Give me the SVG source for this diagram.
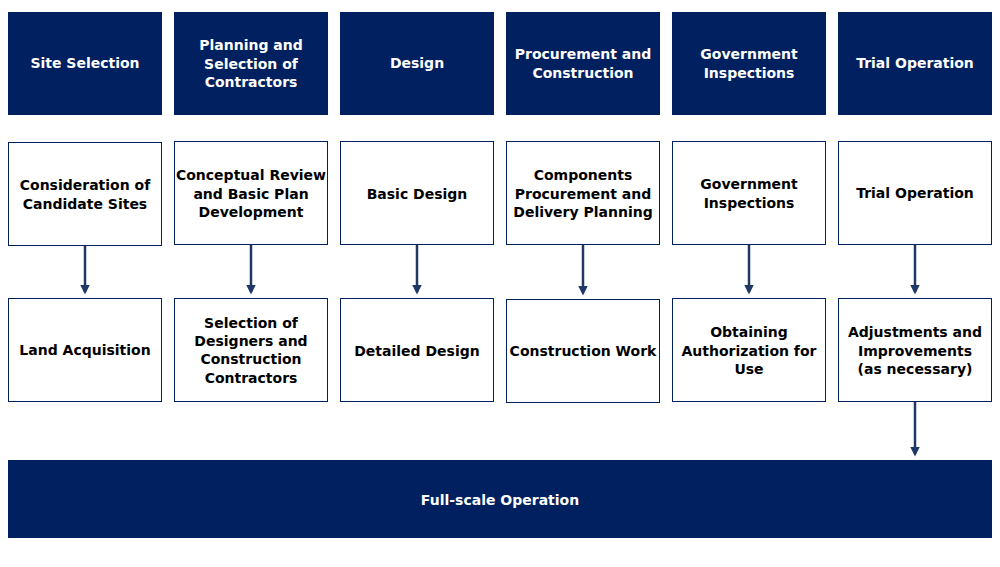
<svg xmlns="http://www.w3.org/2000/svg" width="1000" height="567" viewBox="0 0 1000 567">
<style>
.h{fill:#002060}
.b{fill:#fff;stroke:#002060;stroke-width:1}
text{font-family:"DejaVu Sans",Verdana,sans-serif;font-weight:bold;font-size:14px;text-anchor:middle}
.w{fill:#fff}
.k{fill:#000}
.c{stroke:#1f3864;stroke-width:2.5;fill:none;marker-end:url(#a)}
</style>
<defs><marker id="a" markerWidth="4" markerHeight="4" refX="3" refY="2" orient="auto" markerUnits="strokeWidth"><path d="M0,0L4,2L0,4Z" fill="#1f3864"/></marker></defs>
<rect width="1000" height="567" fill="#fff"/>
<g id="h1"><rect class="h" x="8" y="12" width="154" height="103"/><text class="w" x="85" y="68">Site Selection</text></g>
<g id="h2"><rect class="h" x="174" y="12" width="154" height="103"/><text class="w" x="251" y="50">Planning and</text><text class="w" x="251" y="69">Selection of</text><text class="w" x="251" y="87">Contractors</text></g>
<g id="h3"><rect class="h" x="340" y="12" width="154" height="103"/><text class="w" x="417" y="68">Design</text></g>
<g id="h4"><rect class="h" x="506" y="12" width="154" height="103"/><text class="w" x="583" y="59">Procurement and</text><text class="w" x="583" y="78">Construction</text></g>
<g id="h5"><rect class="h" x="672" y="12" width="154" height="103"/><text class="w" x="749" y="59">Government</text><text class="w" x="749" y="78">Inspections</text></g>
<g id="h6"><rect class="h" x="838" y="12" width="154" height="103"/><text class="w" x="915" y="68">Trial Operation</text></g>
<g id="a1"><rect class="b" x="8.5" y="142.5" width="153" height="103"/><text class="k" x="85" y="190">Consideration of</text><text class="k" x="85" y="209">Candidate Sites</text></g>
<g id="a2"><rect class="b" x="174.5" y="141.5" width="153" height="103"/><text class="k" x="251" y="180">Conceptual Review</text><text class="k" x="251" y="199">and Basic Plan</text><text class="k" x="251" y="217">Development</text></g>
<g id="a3"><rect class="b" x="340.5" y="141.5" width="153" height="103"/><text class="k" x="417" y="199">Basic Design</text></g>
<g id="a4"><rect class="b" x="506.5" y="141.5" width="153" height="103"/><text class="k" x="583" y="180">Components</text><text class="k" x="583" y="199">Procurement and</text><text class="k" x="583" y="217">Delivery Planning</text></g>
<g id="a5"><rect class="b" x="672.5" y="141.5" width="153" height="103"/><text class="k" x="749" y="189">Government</text><text class="k" x="749" y="208">Inspections</text></g>
<g id="a6"><rect class="b" x="838.5" y="141.5" width="153" height="103"/><text class="k" x="915" y="198">Trial Operation</text></g>
<g id="b1"><rect class="b" x="8.5" y="298.5" width="153" height="103"/><text class="k" x="85" y="355">Land Acquisition</text></g>
<g id="b2"><rect class="b" x="174.5" y="298.5" width="153" height="103"/><text class="k" x="251" y="328">Selection of</text><text class="k" x="251" y="346">Designers and</text><text class="k" x="251" y="364">Construction</text><text class="k" x="251" y="383">Contractors</text></g>
<g id="b3"><rect class="b" x="340.5" y="298.5" width="153" height="103"/><text class="k" x="417" y="356">Detailed Design</text></g>
<g id="b4"><rect class="b" x="506.5" y="299.5" width="153" height="103"/><text class="k" x="583" y="356">Construction Work</text></g>
<g id="b5"><rect class="b" x="672.5" y="298.5" width="153" height="103"/><text class="k" x="749" y="337">Obtaining</text><text class="k" x="749" y="356">Authorization for</text><text class="k" x="749" y="374">Use</text></g>
<g id="b6"><rect class="b" x="838.5" y="298.5" width="153" height="103"/><text class="k" x="915" y="337">Adjustments and</text><text class="k" x="915" y="356">Improvements</text><text class="k" x="915" y="374">(as necessary)</text></g>
<g id="full"><rect class="h" x="8" y="460" width="984" height="78"/><text class="w" x="500" y="505">Full-scale Operation</text></g>
<g id="connectors">
<line class="c" x1="85" y1="246" x2="85" y2="292"/>
<line class="c" x1="251" y1="245" x2="251" y2="292"/>
<line class="c" x1="417" y1="245" x2="417" y2="292"/>
<line class="c" x1="583" y1="245" x2="583" y2="293"/>
<line class="c" x1="749" y1="245" x2="749" y2="292"/>
<line class="c" x1="915" y1="245" x2="915" y2="292"/>
<line class="c" x1="915" y1="402" x2="915" y2="454"/>
</g>
</svg>
